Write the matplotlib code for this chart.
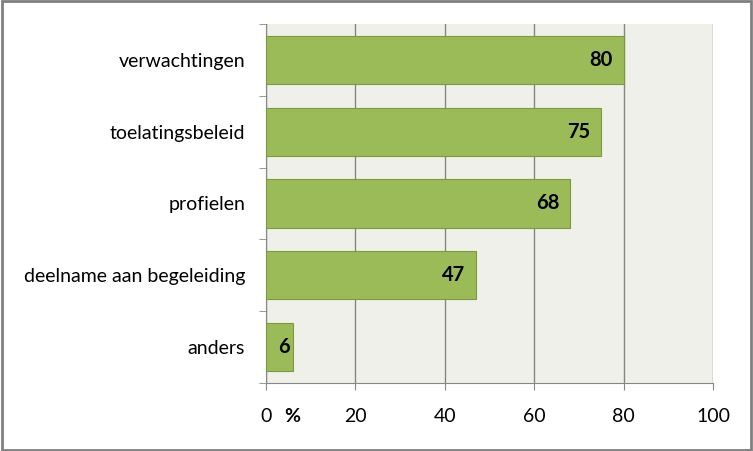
import matplotlib.pyplot as plt
from matplotlib.patches import Rectangle

categories = ['verwachtingen', 'toelatingsbeleid', 'profielen', 'deelname aan begeleiding', 'anders']
values = [80, 75, 68, 47, 6]
xticks = [0, 20, 40, 60, 80, 100]

plt.rcParams['font.family'] = ['Lato', 'DejaVu Sans']

fig = plt.figure(figsize=(7.53, 4.51), dpi=100)
ax = fig.add_axes([0.3533, 0.1508, 0.5936, 0.796])
ax.set_facecolor('#eff0e9')

pos = list(range(len(categories)))[::-1]
ax.barh(pos, values, height=0.67, color='#9bbb59', edgecolor='#7a9a3c', linewidth=0.8, zorder=3)

# value labels inside bar ends (short bars get less padding)
for p, v in zip(pos, values):
    off = 2.4 if v > 15 else 0.7
    ax.text(v - off, p, str(v), ha='right', va='center', fontsize=14.5, fontweight='bold', color='black', zorder=4)

ax.set_xlim(0, 100)
ax.set_ylim(-0.5, len(categories) - 0.5)
ax.set_xticks(xticks)
ax.set_xticklabels([str(t) for t in xticks], fontsize=14)
ax.set_yticks(pos)
ax.set_yticklabels(categories, fontsize=14)
ax.set_yticks([i - 0.5 for i in range(len(categories) + 1)], minor=True)
ax.tick_params(axis='y', which='major', length=0, pad=15)
ax.tick_params(axis='y', which='minor', length=5, color='#868686', direction='out')
ax.tick_params(axis='x', length=5, color='#868686', direction='out', pad=13)
ax.grid(axis='x', color='#868686', linewidth=1, zorder=1)

for s in ['top', 'right']:
    ax.spines[s].set_visible(False)
ax.spines['left'].set_color('#868686')
ax.spines['bottom'].set_color('#868686')

# bold percent sign next to the zero tick
ax.annotate('%', xy=(5.8, 0), xycoords=('data', 'axes fraction'), xytext=(0, -18),
            textcoords='offset points', ha='center', va='top', fontsize=14, fontweight='bold')

fig.patches.append(Rectangle((0.002, 0.003), 0.995, 0.994, transform=fig.transFigure,
                             fill=False, edgecolor='#808080', linewidth=2))

fig.savefig('out.png', dpi=100)
